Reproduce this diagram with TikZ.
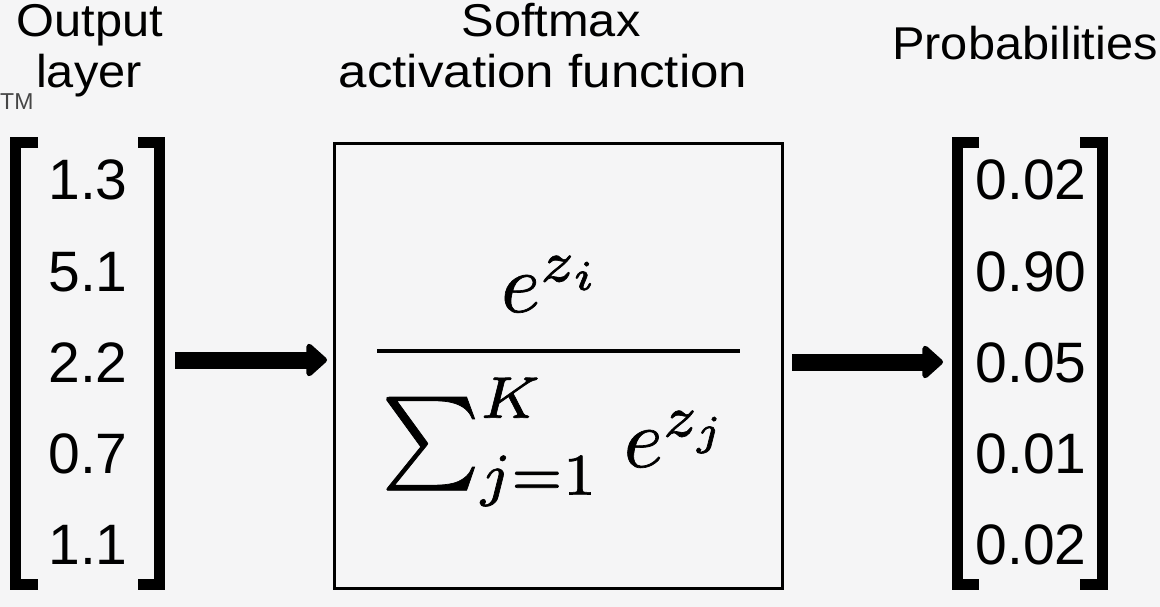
\documentclass[tikz,border=0pt]{standalone}
\usepackage[no-math]{fontspec}
\usepackage{graphicx}
\newfontfamily\arial{Liberation Sans}
\usetikzlibrary{arrows.meta,calc}
\definecolor{bgc}{RGB}{245,245,246}
\definecolor{tmgray}{RGB}{70,70,70}
\tikzset{
  lbl/.style={font=\arial\fontsize{46}{52}\selectfont, anchor=base, inner sep=0pt},
  num/.style={font=\arial\fontsize{57}{60}\selectfont, anchor=base, inner sep=0pt},
  vecnode/.style={minimum width=#1, minimum height=453pt, inner sep=0pt, outer sep=0pt},
  brk/.style={line width=11pt, line join=miter},
  fnbox/.style={draw, line width=3pt, minimum width=448pt, minimum height=445pt, inner sep=0pt},
  bigarrow/.style={line width=17pt, -{Triangle[length=22pt 0, width=38pt 0, round]}},
  mth/.style={anchor=base, inner sep=0pt},
}
\newcommand\sx[2][1.06]{\scalebox{#1}[1]{#2}}
\newcommand\heavy[1]{\special{pdf:literal direct 2 Tr 0.08 w}#1\special{pdf:literal direct 0 Tr}}
\newcommand\bigmath[1]{\scalebox{8.4}{\fontsize{10}{12}\selectfont\heavy{$#1$}}}
\newcommand\vecbrackets[3]{%
  \draw[brk] ($(#1.north west)+(#2,5.5)$) -- ($(#1.north west)+(5.5,5.5)$)
     -- ($(#1.south west)+(5.5,-5.5)$) -- ($(#1.south west)+(#2,-5.5)$);
  \draw[brk] ($(#1.north east)+(-#3,5.5)$) -- ($(#1.north east)+(-5.5,5.5)$)
     -- ($(#1.south east)+(-5.5,-5.5)$) -- ($(#1.south east)+(-#3,-5.5)$);
}
\begin{document}
\begin{tikzpicture}[x=1pt,y=-1pt]
  \path[fill=bgc] (0,0) rectangle (1160,607);
  \useasboundingbox (0,0) rectangle (1160,607);

  % labels
  \node[lbl] (outA) at (90,37) {\sx{Output}};
  \node[lbl] (outB) at (89,88) {\sx{layer}};
  \node[lbl] (smA) at (551,37) {\sx{Softmax}};
  \node[lbl] (smB) at (543,88) {\sx[1.11]{activation function}};
  \node[lbl] (prob) at (1025,60) {\sx{Probabilities}};
  \node[font=\arial\fontsize{23}{26}\selectfont, text=tmgray, anchor=base west, inner sep=0pt] (tm) at (0,110) {TM};

  % input vector
  \node[vecnode=155pt] (L) at (87.5,363.5) {};
  \vecbrackets{L}{28}{27}
  \node[num] (l1) at (88,200) {1.3};
  \node[num] (l2) at (88,291) {5.1};
  \node[num] (l3) at (88,382) {2.2};
  \node[num] (l4) at (88,473) {0.7};
  \node[num] (l5) at (88,564) {1.1};

  % output vector
  \node[vecnode=156pt] (R) at (1030,363.5) {};
  \vecbrackets{R}{27}{28}
  \node[num] (r1) at (1031,200) {0.02};
  \node[num] (r2) at (1031,291) {0.90};
  \node[num] (r3) at (1031,382) {0.05};
  \node[num] (r4) at (1031,473) {0.01};
  \node[num] (r5) at (1031,564) {0.02};

  % softmax box
  \node[fnbox] (box) at (558.5,366) {};
  \node[mth] (numer) at (552,312) {\bigmath{e^{z_i}}};
  \node[mth] (denom) at (556,467) {\bigmath{\mathop{\scalebox{1.11}{$\sum$}}\nolimits_{j=1}^{K}\mkern2mu e^{z_j}}};
  \draw[line width=4pt] (377,351) -- (740,351);

  % arrows
  \draw[bigarrow, shorten <=10pt, shorten >=6pt] ([yshift=3.5pt]L.east) -- ([yshift=3.5pt]L.east -| box.west);
  \draw[bigarrow, shorten <=8pt, shorten >=9pt] ([yshift=1.5pt]R.west -| box.east) -- ([yshift=1.5pt]R.west);
\end{tikzpicture}
\end{document}
